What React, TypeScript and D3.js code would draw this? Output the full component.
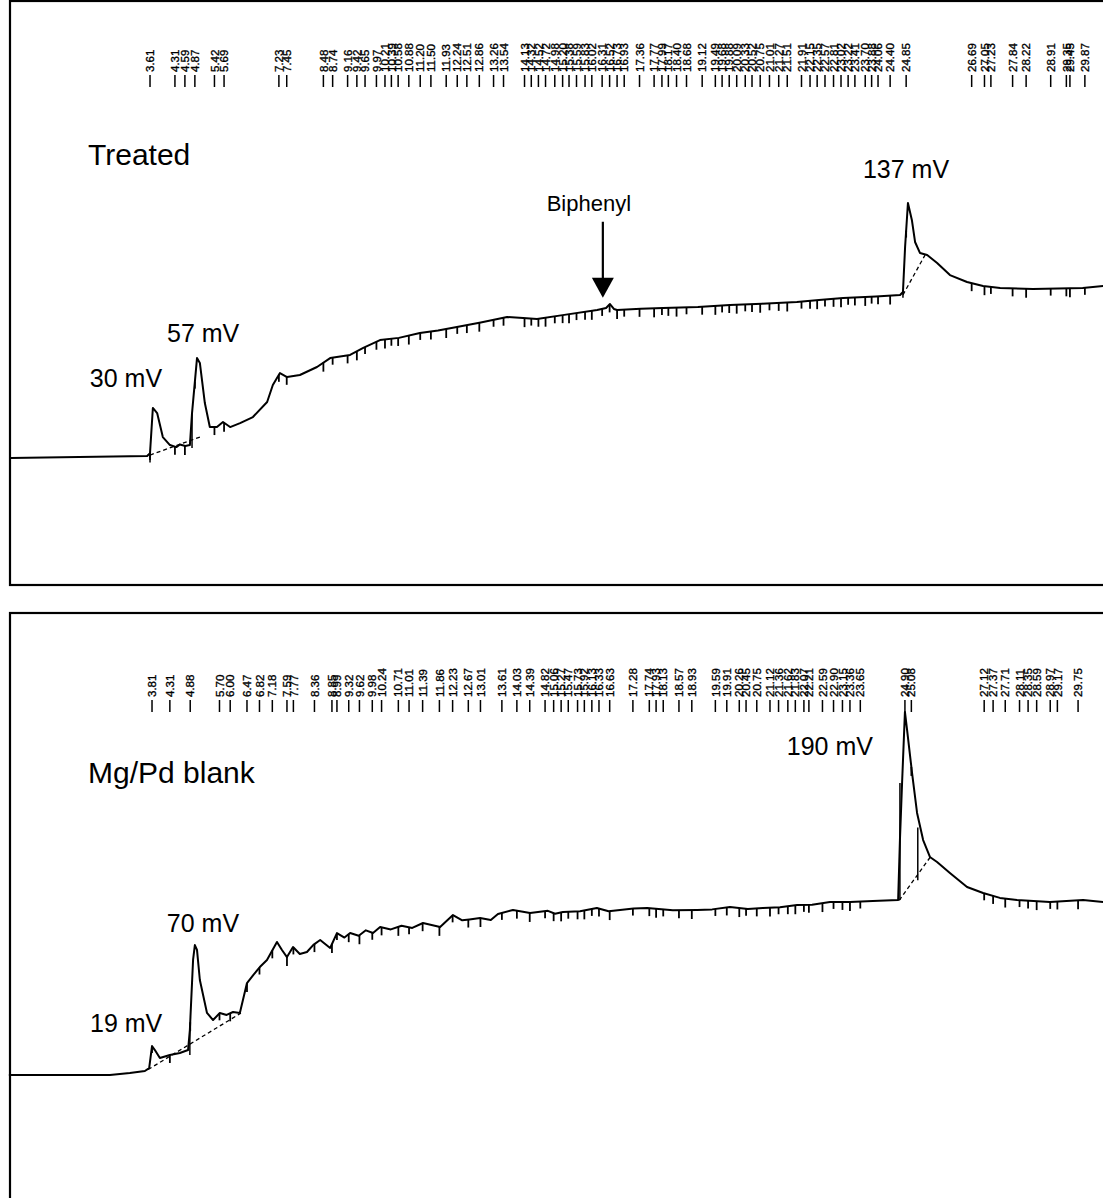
import React from 'react';
import * as d3 from 'd3';

type Pt = [number, number];

// ---------- DATA ----------
// Treated chromatogram: [retention time (min), signal (mV)]
const treatedTrace: Pt[] = [
  [-0.3, 0], [3.53, 1.1], [3.61, 2.7], [3.69, 27.5], [3.81, 24.7], [3.97, 11.5], [4.17, 7.1],
  [4.35, 6.0], [4.45, 7.4], [4.6, 6.6], [4.73, 7.1], [4.79, 24.7], [4.93, 54.9], [5.01, 52.2],
  [5.15, 30.2], [5.29, 17.0], [5.49, 17.0], [5.66, 19.8], [5.86, 17.0], [6.14, 19.2],
  [6.5, 22.5], [6.9, 30.8], [7.06, 40.1], [7.26, 46.7], [7.46, 44.5], [7.82, 45.6],
  [8.3, 50.0], [8.67, 54.9], [9.23, 56.6], [9.6, 60.5], [10.07, 64.8], [10.6, 66.0],
  [11.19, 68.7], [11.7, 70.0], [12.23, 72.0], [12.9, 74.5], [13.64, 77.5], [14.09, 76.9],
  [14.48, 76.4], [15.2, 78.5], [16.17, 81.3], [16.42, 82.4], [16.53, 84.6], [16.64, 81.9],
  [16.73, 81.3], [17.4, 82.0], [18.02, 82.4], [19.0, 83.0], [19.9, 84.1], [20.8, 84.8],
  [21.78, 85.7], [22.4, 86.8], [23.08, 87.9], [24.0, 88.8], [24.68, 89.6], [24.76, 91.2],
  [24.82, 115.9], [24.9, 140.1], [25.01, 130.8], [25.1, 118.7], [25.24, 112.6], [25.44, 111.5],
  [25.72, 107.1], [26.08, 100.5], [26.56, 96.7], [27.01, 94.5], [27.49, 93.4], [28.41, 92.9],
  [29.81, 93.4], [30.4, 94.5],
];

// Mg/Pd blank chromatogram
const blankTrace: Pt[] = [
  [-0.2, 0], [2.63, 0], [3.19, 1.1], [3.61, 2.2], [3.73, 3.8], [3.81, 15.9], [3.89, 13.7],
  [4.03, 9.3], [4.31, 11.0], [4.59, 12.1], [4.82, 13.7], [4.87, 24.7], [4.96, 63.2],
  [5.01, 71.4], [5.07, 68.7], [5.15, 52.2], [5.35, 34.1], [5.52, 30.2], [5.71, 34.1],
  [5.9, 33.0], [6.08, 34.6], [6.27, 34.1], [6.47, 50.5], [6.65, 55.0], [6.83, 59.3],
  [7.03, 63.2], [7.31, 73.1], [7.45, 68.7], [7.59, 64.8], [7.76, 70.3], [7.95, 66.5],
  [8.15, 67.6], [8.33, 71.5], [8.52, 74.2], [8.8, 69.8], [8.99, 78.0], [9.2, 75.5], [9.36, 78.0],
  [9.6, 76.5], [9.8, 79.5], [10.0, 78.0], [10.2, 81.3], [10.5, 80.0], [10.8, 82.0], [11.1, 80.8],
  [11.4, 83.5], [11.88, 81.3], [12.24, 87.9], [12.5, 85.0], [12.7, 85.5], [13.0, 86.3],
  [13.3, 85.2], [13.5, 88.5], [13.92, 90.7], [14.4, 89.0], [14.9, 90.2], [15.1, 88.6],
  [15.32, 89.6], [15.8, 90.0], [16.27, 91.8], [16.6, 90.0], [16.92, 90.7], [17.3, 91.5],
  [17.68, 91.8], [18.4, 90.5], [19.08, 90.7], [19.5, 91.0], [20.0, 92.3], [20.5, 91.2],
  [20.92, 91.8], [21.4, 92.2], [21.88, 93.4], [22.3, 93.6], [22.8, 95.1], [23.36, 95.1],
  [24.0, 95.6], [24.71, 96.2], [24.76, 129.1], [24.82, 160.4], [24.9, 199.5],
  [24.96, 189.6], [25.1, 165.9], [25.24, 144.0], [25.41, 129.1], [25.6, 119.8], [25.8, 117.0],
  [26.16, 111.0], [26.64, 103.3], [27.09, 100.0], [27.56, 97.3], [28.04, 96.2], [28.96, 95.1],
  [29.89, 96.2], [30.45, 95.1],
];

// Retention-time labels printed above each trace
const treatedPeaks: number[] = [
  3.61, 4.31, 4.59, 4.87, 5.42, 5.69, 7.23, 7.45, 8.48, 8.74, 9.16, 9.42, 9.65, 9.97, 10.21,
  10.39, 10.58, 10.88, 11.2, 11.5, 11.93, 12.24, 12.51, 12.86, 13.26, 13.54, 14.13, 14.32,
  14.52, 14.72, 14.98, 15.2, 15.38, 15.59, 15.83, 16.02, 16.31, 16.52, 16.73, 16.93, 17.36,
  17.77, 17.99, 18.17, 18.4, 18.68, 19.12, 19.49, 19.68, 19.88, 20.09, 20.33, 20.52, 20.75,
  21.01, 21.27, 21.51, 21.91, 22.15, 22.35, 22.57, 22.81, 23.02, 23.22, 23.41, 23.7, 23.88,
  24.06, 24.4, 24.85, 26.69, 27.05, 27.23, 27.84, 28.22, 28.91, 29.35, 29.45, 29.87,
];
const blankPeaks: number[] = [
  3.81, 4.31, 4.88, 5.7, 6.0, 6.47, 6.82, 7.18, 7.59, 7.77, 8.36, 8.85, 8.99, 9.32, 9.62,
  9.98, 10.24, 10.71, 11.01, 11.39, 11.86, 12.23, 12.67, 13.01, 13.61, 14.03, 14.39, 14.82,
  15.06, 15.27, 15.47, 15.73, 15.92, 16.13, 16.33, 16.63, 17.28, 17.74, 17.93, 18.13, 18.57,
  18.93, 19.59, 19.91, 20.26, 20.45, 20.75, 21.12, 21.36, 21.62, 21.83, 22.07, 22.21, 22.59,
  22.9, 23.15, 23.36, 23.65, 24.9, 25.08, 27.12, 27.37, 27.71, 28.11, 28.35, 28.59, 28.97,
  29.17, 29.75,
];

// Peak height annotations [time, signal, text]
const treatedNotes: [number, number, string][] = [
  [3.69, 27.5, '30 mV'], [4.93, 54.9, '57 mV'], [24.9, 140.1, '137 mV'],
];
const blankNotes: [number, number, string][] = [
  [3.81, 15.9, '19 mV'], [5.01, 71.4, '70 mV'], [24.9, 199.5, '190 mV'],
];

// Integration baselines (dashed) [t0, v0, t1, v1]
const treatedBaselines: [number, number, number, number][] = [
  [3.61, 1.6, 5.01, 11.5], [24.76, 89.6, 25.38, 111.5],
];
const blankBaselines: [number, number, number, number][] = [
  [3.7, 3.0, 6.3, 34.0], [24.74, 96.0, 25.62, 120.0],
];

// Perpendicular drop lines [t, vFrom, vTo]
const treatedDrops: [number, number, number][] = [
  [3.61, 2.7, -2.5], [4.79, 24.7, 5.5], [24.76, 91.2, 88.0],
];
const blankDrops: [number, number, number][] = [
  [4.87, 24.7, 11.0], [24.76, 160.4, 96.2], [25.26, 136.0, 107.0],
];

const biphenylTime = 16.33;

// ---------- HELPERS ----------
const bis = d3.bisector((d: Pt) => d[0]).left;
function valueAt(trace: Pt[], t: number): number {
  const i = bis(trace, t);
  if (i <= 0) return trace[0][1];
  if (i >= trace.length) return trace[trace.length - 1][1];
  const a = trace[i - 1], b = trace[i];
  return a[1] + ((b[1] - a[1]) * (t - a[0])) / (b[0] - a[0]);
}

const FONT = '"Liberation Sans", Arial, Helvetica, sans-serif';

interface PanelProps {
  frameTop: number;
  frameBottom: number;
  x0: number;
  pxPerMin: number;
  base: number;
  trace: Pt[];
  peaks: number[];
  notes: [number, number, string][];
  baselines: [number, number, number, number][];
  drops: [number, number, number][];
  labelY: number;
  title: string;
  titleY: number;
  noteOffsets: [number, number, string][];
  children?: (x: d3.ScaleLinear<number, number>, y: d3.ScaleLinear<number, number>) => React.ReactNode;
}

function Panel(p: PanelProps) {
  const x = d3.scaleLinear().domain([0, 30]).range([p.x0, p.x0 + 30 * p.pxPerMin]);
  const y = d3.scaleLinear().domain([0, 100]).range([p.base, p.base - 182]);
  const line = d3.line<Pt>().x(d => x(d[0])).y(d => y(d[1]));
  return (
    <g>
      <rect x={10} y={p.frameTop} width={1110} height={p.frameBottom - p.frameTop}
        fill="none" stroke="#000" strokeWidth={2.2} />
      {/* retention time labels */}
      {p.peaks.map((t, i) => (
        <g key={'l' + i}>
          <text transform={`translate(${x(t)},${p.labelY}) rotate(-90)`} dy="0.36em"
            fontSize={11.5} fontFamily={FONT} fill="#000" stroke="#000" strokeWidth={0.35}>{t.toFixed(2)}</text>
          <line x1={x(t)} x2={x(t)} y1={p.labelY + 3} y2={p.labelY + 15} stroke="#000" strokeWidth={1.5} />
        </g>
      ))}
      {/* trace */}
      <path d={line(p.trace) || ''} fill="none" stroke="#000" strokeWidth={2} strokeLinejoin="round" />
      {/* integration tick marks hanging from trace */}
      {p.peaks.map((t, i) => {
        const yy = y(valueAt(p.trace, t));
        return <line key={'m' + i} x1={x(t)} x2={x(t)} y1={yy} y2={yy + 7 + (i % 3)} stroke="#000" strokeWidth={1.8} />;
      })}
      {p.baselines.map((b, i) => (
        <line key={'b' + i} x1={x(b[0])} y1={y(b[1])} x2={x(b[2])} y2={y(b[3])}
          stroke="#000" strokeWidth={1.3} strokeDasharray="4,3" />
      ))}
      {p.drops.map((d, i) => (
        <line key={'d' + i} x1={x(d[0])} x2={x(d[0])} y1={y(d[1])} y2={y(d[2])} stroke="#000" strokeWidth={1.5} />
      ))}
      {p.notes.map((n, i) => {
        const off = p.noteOffsets[i];
        return (
          <text key={'n' + i} x={x(n[0]) + off[0]} y={y(n[1]) + off[1]} textAnchor={off[2] as any}
            fontSize={25} fontFamily={FONT} fill="#000">{n[2]}</text>
        );
      })}
      <text x={88} y={p.titleY} fontSize={30} fontFamily={FONT} fill="#000">{p.title}</text>
      {p.children ? p.children(x, y) : null}
    </g>
  );
}

export default function App() {
  return (
    <svg width={1103} height={1198} style={{ position: 'absolute', left: 0, top: 0, background: '#fff' }}>
      <rect x={0} y={0} width={1103} height={1198} fill="#fff" />
      <Panel frameTop={1} frameBottom={585} x0={21.5} pxPerMin={35.6} base={458}
        trace={treatedTrace} peaks={treatedPeaks} notes={treatedNotes}
        baselines={treatedBaselines} drops={treatedDrops} labelY={72}
        title="Treated" titleY={165}
        noteOffsets={[[-63, -21, 'start'], [-30, -16, 'start'], [-45, -25, 'start']]}>
        {(x, y) => {
          const ax = x(biphenylTime);
          const tip = y(valueAt(treatedTrace, biphenylTime)) - 11;
          return (
            <g>
              <text x={ax - 14} y={tip - 87} textAnchor="middle" fontSize={22} fontFamily={FONT}>Biphenyl</text>
              <line x1={ax} x2={ax} y1={tip - 76} y2={tip - 18} stroke="#000" strokeWidth={2.2} />
              <path d={`M${ax - 11},${tip - 20} L${ax + 11},${tip - 20} L${ax},${tip} Z`} fill="#000" />
            </g>
          );
        }}
      </Panel>
      <Panel frameTop={613} frameBottom={1205} x0={16} pxPerMin={35.7} base={1075}
        trace={blankTrace} peaks={blankPeaks} notes={blankNotes}
        baselines={blankBaselines} drops={blankDrops} labelY={697}
        title="Mg/Pd blank" titleY={783}
        noteOffsets={[[-62, -14, 'start'], [-28, -13, 'start'], [-32, 43, 'end']]} />
    </svg>
  );
}
